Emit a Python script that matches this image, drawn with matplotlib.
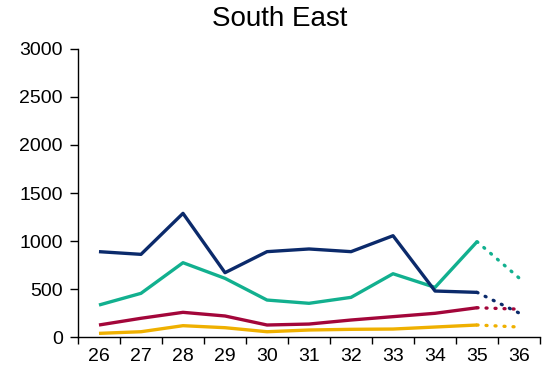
import matplotlib
matplotlib.use("Agg")
from matplotlib import pyplot as plt

plt.rcParams['font.family'] = ['Liberation Sans', 'DejaVu Sans']

weeks = ['26', '27', '28', '29', '30', '31', '32', '33', '34', '35', '36']

# last value of each series is the projected week (drawn dotted)
navy_vals = [889, 861, 1288, 670, 889, 917, 889, 1055, 479, 465, 250]
teal_vals = [333, 455, 774, 611, 385, 351, 413, 659, 517, 993, 615]
red_vals = [125, 195, 257, 219, 125, 135, 177, 212, 247, 305, 290]
gold_vals = [38, 55, 118, 97, 55, 73, 80, 83, 104, 125, 104]

series = [
    (navy_vals, '#0B2A6B'),
    (teal_vals, '#12B08F'),
    (red_vals, '#A3063A'),
    (gold_vals, '#EFB000'),
]

fig = plt.figure(figsize=(5.43, 3.76), dpi=100)
ax = fig.add_axes([0.1436, 0.1037, 0.851, 0.766])

x = list(range(len(weeks)))
for vals, col in reversed(series):
    ax.plot(x[:-1], vals[:-1], color=col, linewidth=2.4, solid_capstyle='butt', zorder=3)
    ax.plot(x[-2:], vals[-2:], color=col, linewidth=2.4,
            linestyle=(0, (0.3, 2.4)), dash_capstyle='round', zorder=3)

ax.set_ylim(0, 3000)
ax.set_yticks(range(0, 3001, 500))
ax.set_xlim(-0.5, len(weeks) - 0.5)
ax.set_xticks(x)
ax.set_xticklabels(weeks)
ax.set_xticks([i - 0.5 for i in range(len(weeks) + 1)], minor=True)
ax.tick_params(axis='x', which='major', length=0, labelsize=14, pad=8)
ax.tick_params(axis='x', which='minor', length=5, width=1, direction='out')
ax.tick_params(axis='y', labelsize=14, length=6, width=1, pad=5)

for s in ['top', 'right']:
    ax.spines[s].set_visible(False)
for s in ['left', 'bottom']:
    ax.spines[s].set_linewidth(1)

fig.suptitle('South East', fontsize=20, x=0.515, y=0.985)
fig.savefig('out.png', dpi=100)
